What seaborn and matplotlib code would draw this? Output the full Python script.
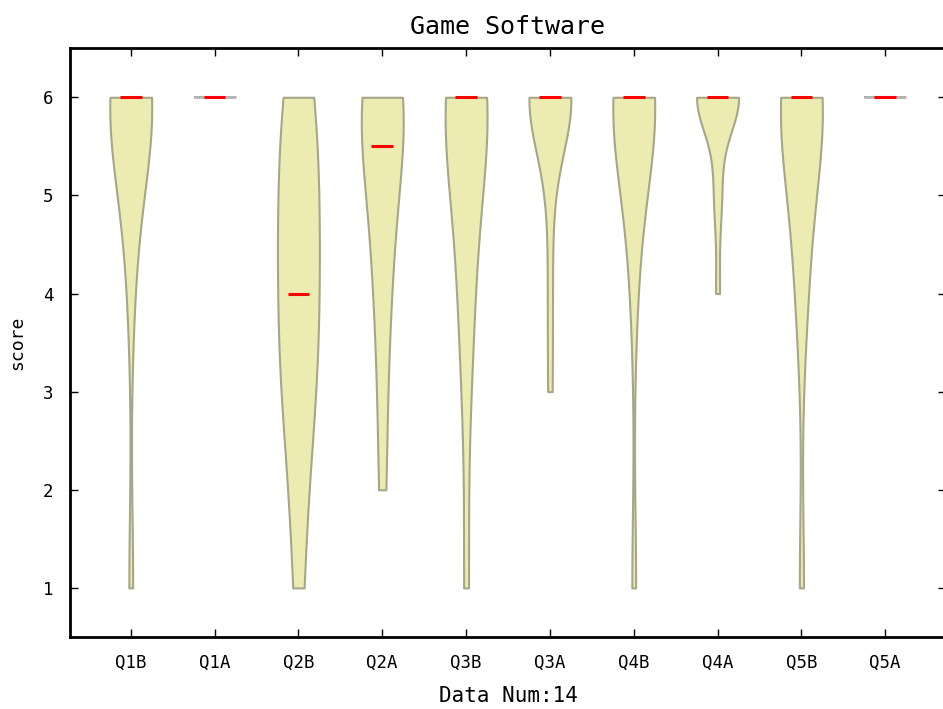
import numpy as np
import pandas as pd
import matplotlib
matplotlib.use("Agg")
import matplotlib.pyplot as plt
import seaborn as sns

# 14 answers per question (score 1-6), B = before, A = after
questions = ["Q1B", "Q1A", "Q2B", "Q2A", "Q3B", "Q3A", "Q4B", "Q4A", "Q5B", "Q5A"]
q1b = [1, 4, 5, 5, 6, 6, 6, 6, 6, 6, 6, 6, 6, 6]
q1a = [6, 6, 6, 6, 6, 6, 6, 6, 6, 6, 6, 6, 6, 6]
q2b = [1, 2, 3, 3, 3, 4, 4, 4, 5, 5, 5, 6, 6, 6]
q2a = [2, 3, 4, 4, 5, 5, 5, 6, 6, 6, 6, 6, 6, 6]
q3b = [1, 3, 4, 4, 5, 5, 6, 6, 6, 6, 6, 6, 6, 6]
q3a = [3, 4, 5, 6, 6, 6, 6, 6, 6, 6, 6, 6, 6, 6]
q4b = [1, 4, 5, 5, 6, 6, 6, 6, 6, 6, 6, 6, 6, 6]
q4a = [4, 5, 5, 6, 6, 6, 6, 6, 6, 6, 6, 6, 6, 6]
q5b = [1, 4, 4, 5, 5, 6, 6, 6, 6, 6, 6, 6, 6, 6]
q5a = [6, 6, 6, 6, 6, 6, 6, 6, 6, 6, 6, 6, 6, 6]
scores = [q1b, q1a, q2b, q2a, q3b, q3a, q4b, q4a, q5b, q5a]

df = pd.DataFrame({
    "question": np.repeat(questions, [len(s) for s in scores]),
    "score": np.concatenate(scores),
})

sns.set_style("ticks")
plt.rcParams["font.family"] = ["DejaVu Sans Mono"]

fig = plt.figure(figsize=(9.43, 7.09), dpi=100)
ax = fig.add_axes([0.0742, 0.1016, 0.929, 0.8304])

sns.violinplot(data=df, x="question", y="score", order=questions,
               cut=0, inner=None, width=0.5, density_norm="width",
               color="#ECECB2", linecolor="#A6A688", linewidth=1.5,
               saturation=1, ax=ax)

# singular groups get no kde -> draw a flat line, then the medians
for i, q in enumerate(questions):
    vals = df.loc[df["question"] == q, "score"]
    if vals.nunique() == 1:
        ax.hlines(vals.iloc[0], i - 0.25, i + 0.25, color="#B4B4B4", lw=2, zorder=3)
    ax.hlines(vals.median(), i - 0.13, i + 0.13, color="red", lw=2.2, zorder=4)

ax.set_xlim(-0.725, 9.725)
ax.set_ylim(0.5, 6.5)
ax.set_yticks([1, 2, 3, 4, 5, 6])
ax.tick_params(direction="in", top=True, right=True, labelsize=12.5,
               length=6, width=1, color="black", labelcolor="black", pad=12)
for s in ax.spines.values():
    s.set_linewidth(2)
    s.set_color("black")
ax.set_title("Game Software", fontsize=18, pad=10, color="black")
ax.set_xlabel("Data Num:14", fontsize=15, labelpad=10, color="black")
ax.set_ylabel("score", fontsize=13, labelpad=12, color="black")

fig.savefig("out.png", dpi=100)
